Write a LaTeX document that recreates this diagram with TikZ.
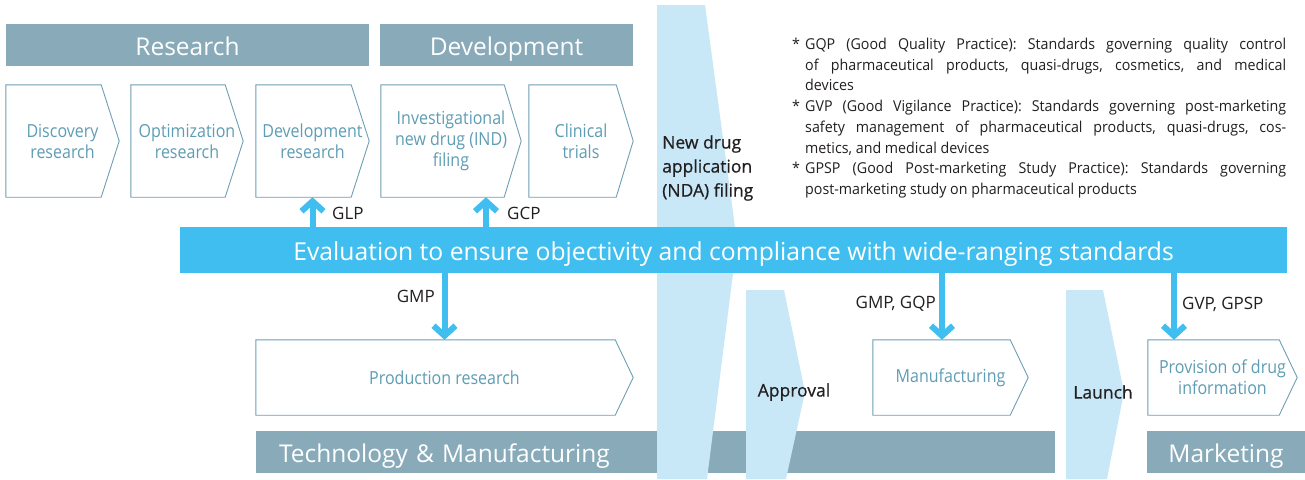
\documentclass[tikz,border=0pt]{standalone}
\usepackage{fontspec}
\setmainfont{Open Sans}
\newfontfamily\condfont{Open Sans}[FakeStretch=0.89]
\newfontfamily\notefont{Open Sans}[FakeStretch=0.95]
\newfontfamily\stagefont{Open Sans}[FakeBold=0.6]
\usetikzlibrary{arrows.meta,calc}
\definecolor{hdr}{HTML}{88AAB9}
\definecolor{brightblue}{HTML}{40BEEF}
\definecolor{paleblue}{HTML}{C8E8F8}
\definecolor{chevtext}{HTML}{5E9DB4}
\definecolor{chevline}{HTML}{6E9FB3}
\definecolor{ink}{HTML}{231F20}
\frenchspacing
\newcommand\chevpath[2]{\draw[chevstroke] (#1.north west) -- ($(#1.north east)+(-#2,0)$) -- (#1.east) -- ($(#1.south east)+(-#2,0)$) -- (#1.south west) -- cycle;}
\begin{document}
\begin{tikzpicture}[x=1pt,y=-1pt,
  hdrbox/.style={fill=hdr, text=white, inner sep=0pt, text height=21.5pt, text depth=0pt, font=\fontsize{24.5}{28}\selectfont},
  chevnode/.style={inner sep=0pt, text=chevtext, align=center, font=\condfont\fontsize{18}{21}\selectfont},
  chevstroke/.style={draw=chevline, line width=0.9pt},
  pale/.style={fill=paleblue, draw=none},
  arr/.style={draw=brightblue, line width=6pt, -{Straight Barb[length=10pt,width=22pt]}},
  lbl/.style={inner sep=0pt, text=ink, font=\fontsize{17}{20}\selectfont},
  stage/.style={inner sep=0pt, text=ink, font=\stagefont\fontsize{17.5}{24}\selectfont, align=left}]
\fill[white] (0,0) rectangle (1305,479);
\useasboundingbox (0,0) rectangle (1305,479);

% headers
\node[hdrbox, minimum width=363pt, minimum height=42pt] (research) at (187.5,45) {Research};
\node[hdrbox, minimum width=253pt, minimum height=42pt] (development) at (506.5,45) {Development};

% bottom bars
\node[hdrbox, minimum height=42pt, text width=753pt, inner xsep=23pt, align=left] (techbar) at (655.5,452) {Technology \& Manufacturing};
\node[hdrbox, minimum width=158pt, minimum height=42pt] (marketbar) at (1226,452) {Marketing};

% pale stage shapes
\fill[pale] (657,5) -- (705,5) -- (737,242) -- (707,479) -- (657,479) -- cycle;
\fill[pale] (746,290) -- (784,290) -- (805,392) -- (786,479) -- (746,479) -- cycle;
\fill[pale] (1066,290) -- (1103,290) -- (1124,392) -- (1107,479) -- (1066,479) -- cycle;

% evaluation bar
\node[fill=brightblue, text=white, inner sep=0pt, minimum width=1107pt, minimum height=46pt,
      text height=20pt, text depth=0pt,
      font=\fontsize{24.7}{28}\selectfont] (evalbar) at (733.5,250)
  {Evaluation to ensure objectivity and compliance with wide-ranging standards};

% top chevrons
\node[chevnode, minimum width=113pt, minimum height=112pt] (disc) at (62.5,141) {Discovery\\research};
\node[chevnode, minimum width=112pt, minimum height=112pt] (optim) at (187,141) {Optimization\\research};
\node[chevnode, minimum width=113pt, minimum height=112pt] (devres) at (312.5,141) {Development\\research};
\node[chevnode, minimum width=140pt, minimum height=112pt] (ind) at (451,141) {Investigational\\new drug (IND)\\filing};
\node[chevnode, minimum width=104pt, minimum height=112pt] (clin) at (581,141) {Clinical\\trials};
\chevpath{disc}{18}
\chevpath{optim}{18}
\chevpath{devres}{18}
\chevpath{ind}{17}
\chevpath{clin}{17}

% bottom chevrons
\node[chevnode, minimum width=377pt, minimum height=75pt] (prod) at (444.5,377.5) {Production research};
\node[chevnode, minimum width=155pt, minimum height=75pt] (manu) at (950.5,377.5) {Manufacturing};
\node[chevnode, minimum width=149pt, minimum height=75pt] (prov) at (1222.5,377.5) {Provision of drug\\information};
\chevpath{prod}{18}
\chevpath{manu}{18}
\chevpath{prov}{18}

% stage labels
\node[stage, anchor=west] (nda) at (662,168) {New drug\\application\\(NDA) filing};
\node[stage] (approval) at (794,392) {Approval};
\node[stage] (launch) at (1103,392) {Launch};

% arrows
\coordinate (gcpx) at (486,0);
\coordinate (gqpx) at (942,0);
\coordinate (gvpx) at (1174,0);
\draw[arr] (evalbar.north -| devres.south) -- (devres.south);
\draw[arr] (evalbar.north -| gcpx) -- (ind.south -| gcpx);
\draw[arr] (evalbar.south -| prod.north) -- (prod.north);
\draw[arr] (evalbar.south -| gqpx) -- (manu.north -| gqpx);
\draw[arr] (evalbar.south -| gvpx) -- (prov.north -| gvpx);

\node[lbl, anchor=west] (glp) at (332,213) {GLP};
\node[lbl, anchor=west] (gcp) at (507,213) {GCP};
\node[lbl, anchor=east] (gmp) at (435,296) {GMP};
\node[lbl, anchor=east] (gmpgqp) at (936,304) {GMP, GQP};
\node[lbl, anchor=west] (gvpgpsp) at (1182,304) {GVP, GPSP};

% notes
\node[anchor=north west, text width=494pt, inner sep=0pt, text=ink, align=justify,
      font=\notefont\fontsize{15}{20.7}\selectfont] (notes) at (792,38) {%
\hangindent=13pt\hangafter=1\makebox[13pt][l]{*}GQP (Good Quality Practice): Standards governing quality control\linebreak
of pharmaceutical products, quasi-drugs, cosmetics, and medical\linebreak
devices\par
\hangindent=13pt\hangafter=1\makebox[13pt][l]{*}GVP (Good Vigilance Practice): Standards governing post-marketing\linebreak
safety management of pharmaceutical products, quasi-drugs, cos-\linebreak
metics, and medical devices\par
\hangindent=13pt\hangafter=1\makebox[13pt][l]{*}GPSP (Good Post-marketing Study Practice): Standards governing\linebreak
post-marketing study on pharmaceutical products\par};
\end{tikzpicture}
\end{document}
